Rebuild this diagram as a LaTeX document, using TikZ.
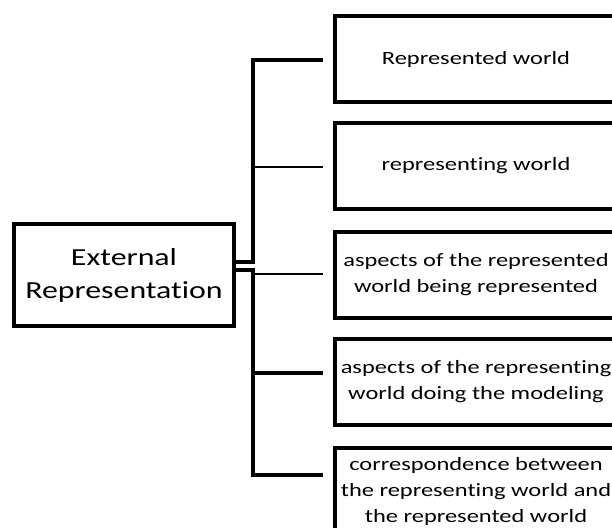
\documentclass[tikz,border=0pt]{standalone}
\usepackage{fontspec}
\setmainfont{Carlito}[FakeStretch=1.3, Ligatures=NoCommon]
\usetikzlibrary{positioning}

\tikzset{
  itembox/.style={draw, line width=4pt, minimum width=282pt, minimum height=86pt, align=center, inner sep=0pt, font=\fontsize{18.8}{26}\selectfont},
  extbox/.style={draw, line width=4pt, minimum width=220pt, minimum height=102pt, align=center, inner sep=0pt, font=\fontsize{24.5}{33}\selectfont},
  branch/.style={line width=4pt},
  twig/.style={line width=1.5pt}
}

\begin{document}
\begin{tikzpicture}[x=1pt,y=-1pt]
        \useasboundingbox (0,0) rectangle (612,527);
        \clip (0,0) rectangle (612,527);

        \node[extbox] (ext) at (124,275) {External\\Representation};

        \node[itembox] (w1) at (476,59) {Represented world};
        \node[itembox] (w2) at (476,166) {representing world};
        \node[itembox] (w3) at (476,275) {aspects of the represented\\world being represented};
        \node[itembox] (w4) at (476,382) {aspects of the representing\\world doing the modeling};
        \node[itembox] (w5) at (476,491) {correspondence between\\the representing world and\\the represented world};

        \coordinate (t) at (253,0);
        \coordinate (b1) at ([xshift=-10pt,yshift=-1pt]w1.west);
        \coordinate (b2) at ([xshift=-10pt,yshift=-1pt]w2.west);
        \coordinate (b3) at ([xshift=-10pt,yshift=1pt]w3.west);
        \coordinate (b4) at ([xshift=-10pt,yshift=9pt]w4.west);
        \coordinate (b5) at ([xshift=-10pt,yshift=16pt]w5.west);

        \draw[branch] ([yshift=13pt]ext.east) -| (t |- b1) -- (b1);
        \draw[branch] ([yshift=5pt]ext.east) -| (t |- b5) -- (b5);
        \draw[branch] (t |- b4) -- (b4);
        \draw[twig] (t |- b2) -- (b2);
        \draw[twig] (t |- b3) -- (b3);
\end{tikzpicture}
\end{document}
